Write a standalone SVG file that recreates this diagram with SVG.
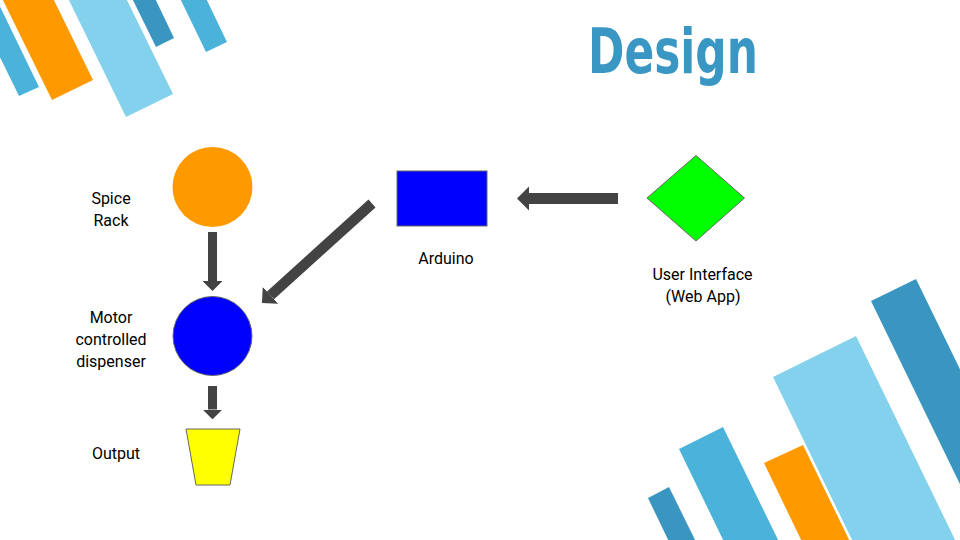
<svg xmlns="http://www.w3.org/2000/svg" width="960" height="540" viewBox="0 0 960 540">
<style>
.lbl{font-family:Roboto,"Liberation Sans",sans-serif;font-size:16px;fill:#000;text-anchor:middle}
.node{stroke:#666;stroke-width:1}
.conn{stroke:#434343;fill:none;stroke-linecap:butt}
.sb{fill:#4BB3D9}.so{fill:#FF9900}.sl{fill:#83D1EC}.sd{fill:#3A96C1}
</style>
<defs>
<marker id="ah" markerUnits="strokeWidth" markerWidth="1.1" markerHeight="2.2" viewBox="0 0 1.1 2.2" refX="0" refY="1.1" orient="auto">
<path d="M0,0 L1.1,1.1 L0,2.2 z" fill="#434343"/>
</marker>
</defs>
<rect width="960" height="540" fill="#fff"/>
<g id="decor-top-left">
<polygon class="sb" points="19,96 39,87 -8,-10 -33,-10"/>
<polygon class="so" points="52,100 93,80 49,-10 -2,-10"/>
<polygon class="sl" points="126,117 173,94 122,-10 64,-10"/>
<polygon class="sd" points="156,47 174,38 151,-10 128,-10"/>
<polygon class="sb" points="206,52 227,42 202,-10 176,-10"/>
</g>
<g id="decor-bottom-right">
<polygon class="sd" points="871,301 916,279 1048,550 992,550"/>
<polygon class="sl" points="773,377 856,336 960,550 857,550"/>
<polygon class="so" points="764,463 803,445 854,550 806,550"/>
<polygon class="sb" points="679,449 723,427 783,550 728,550"/>
<polygon class="sd" points="648,498 669,487 700,550 673,550"/>
</g>
<text id="title" x="588" y="73" font-family="'Liberation Sans Narrow','DejaVu Sans Condensed','Liberation Sans',sans-serif" font-weight="bold" font-size="62" fill="#3A97C3" textLength="170" lengthAdjust="spacingAndGlyphs">Design</text>
<g id="connectors">
<line class="conn" x1="212.5" y1="232" x2="212.5" y2="281" stroke-width="9" marker-end="url(#ah)"/>
<line class="conn" x1="212.5" y1="386" x2="212.5" y2="409.5" stroke-width="9" marker-end="url(#ah)"/>
<line class="conn" x1="618" y1="198.5" x2="529" y2="198.5" stroke-width="11" marker-end="url(#ah)"/>
<line class="conn" x1="372" y1="203.5" x2="270.5" y2="295.3" stroke-width="10.5" marker-end="url(#ah)"/>
</g>
<g id="spice-rack">
<circle cx="212.5" cy="187" r="40" fill="#FF9900"/>
<text class="lbl" x="111" y="204">Spice</text>
<text class="lbl" x="111" y="226">Rack</text>
</g>
<g id="motor-dispenser">
<circle class="node" cx="212.5" cy="336" r="39.5" fill="#0000FF"/>
<text class="lbl" x="111" y="323">Motor</text>
<text class="lbl" x="111" y="345">controlled</text>
<text class="lbl" x="111" y="367">dispenser</text>
</g>
<g id="output">
<polygon class="node" points="186,429 240,429 230,485 196,485" fill="#FFFF00"/>
<text class="lbl" x="116" y="459">Output</text>
</g>
<g id="arduino">
<rect class="node" x="397" y="171" width="90" height="55" fill="#0000FF"/>
<text class="lbl" x="446" y="264">Arduino</text>
</g>
<g id="user-interface">
<polygon class="node" points="696,155.5 744.5,198 696,241 647,198" fill="#00FF00"/>
<text class="lbl" x="702.5" y="280">User Interface</text>
<text class="lbl" x="703" y="302">(Web App)</text>
</g>
</svg>
